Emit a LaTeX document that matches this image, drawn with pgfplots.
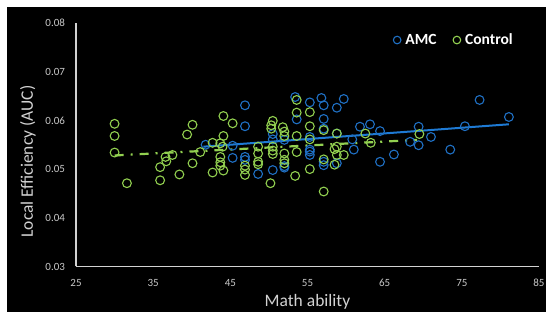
\documentclass[border=0pt]{standalone}
\usepackage{fontspec}
\setmainfont{Carlito}
\usepackage{pgfplots}
\pgfplotsset{compat=1.18}
\definecolor{amc}{RGB}{31,112,196}
\definecolor{amcline}{RGB}{30,122,212}
\definecolor{ctl}{RGB}{146,208,80}
\definecolor{axgray}{RGB}{210,210,210}
\definecolor{tickgray}{RGB}{200,200,200}
\begin{document}
\begin{tikzpicture}[x=1pt,y=1pt]
\useasboundingbox (0,0) rectangle (546,312);
\fill[white] (0,0) rectangle (546,312);
\fill[black] (7,0) rectangle (546,305);
\begin{axis}[
  at={(76pt,45.5pt)}, anchor=south west,
  scale only axis, width=463pt, height=243.5pt,
  xmin=25, xmax=85, ymin=0.03, ymax=0.08,
  xtick={25,35,45,55,65,75,85},
  ytick={0.03,0.04,0.05,0.06,0.07,0.08},
  scaled y ticks=false,
  axis x line*=bottom, axis y line*=left,
  axis line style={-, draw=axgray, line width=1.4pt},
  major tick length=0pt,
  tick style={draw=none},
  /pgf/number format/assume math mode=true,
  yticklabel style={/pgf/number format/.cd, fixed, fixed zerofill, precision=2, /tikz/.cd, xshift=-7.5pt},
  xticklabel style={yshift=-9pt},
  ticklabel style={font=\fontsize{11}{12}\selectfont, text=tickgray},
  xlabel={Math ability}, ylabel={Local Efficiency (AUC)},
  every axis x label/.style={at={(axis description cs:0.5,-0.146)}, anchor=center},
  every axis y label/.style={at={(axis description cs:-0.104,0.431)}, rotate=90, anchor=center},
  label style={font=\fontsize{17.5}{20}\selectfont, text=axgray},
  clip=false,
  legend columns=2,
  legend style={at={(axis description cs:0.685,0.93)}, anchor=west, draw=none, fill=none,
    text=white, font=\bfseries\fontsize{15.5}{16}\selectfont, inner sep=0pt,
    nodes={inner sep=1.5pt},
    /tikz/every odd column/.append style={column sep=3pt},
    /tikz/every even column/.append style={column sep=15pt}},
  legend image code/.code={\draw[#1, mark size=3.8pt] plot coordinates {(0.25em,0pt)};},
]
\addplot[only marks, mark=o, mark size=4.4pt, draw=amc, line width=1.1pt] coordinates {
(41.8,0.0550) (45.3,0.0548) (45.3,0.0523) (46.9,0.0631) (46.9,0.0588) (46.9,0.0525)
(46.9,0.0519) (48.6,0.0490) (50.5,0.0572) (50.5,0.0561) (50.5,0.0498) (52.0,0.0506)
(52.0,0.0503) (52.0,0.0560) (53.4,0.0648) (53.6,0.0602) (55.3,0.0637) (55.3,0.0566)
(55.3,0.0540) (55.3,0.0536) (55.3,0.0529) (56.8,0.0646) (57.1,0.0631) (57.1,0.0603)
(57.1,0.0583) (57.1,0.0515) (57.1,0.0508) (58.8,0.0626) (58.8,0.0573) (58.8,0.0512)
(59.7,0.0644) (60.8,0.0561) (61.0,0.0540) (61.8,0.0587) (63.1,0.0592) (64.4,0.0578)
(64.4,0.0515) (66.2,0.0530) (68.3,0.0556) (69.4,0.0587) (69.4,0.0549) (71.0,0.0566)
(73.5,0.0540) (75.4,0.0588) (77.3,0.0642) (81.1,0.0607)
};
\addlegendentry{AMC}
\addplot[only marks, mark=o, mark size=4.4pt, draw=ctl, line width=1.1pt] coordinates {
(30.0,0.0593) (30.0,0.0568) (30.0,0.0534) (31.6,0.0471) (35.9,0.0504) (35.9,0.0477)
(36.6,0.0525) (36.7,0.0516) (37.5,0.0529) (38.4,0.0489) (39.4,0.0571) (40.1,0.0591)
(40.1,0.0512) (41.1,0.0535) (42.7,0.0554) (42.7,0.0493) (44.1,0.0609) (45.3,0.0594)
(44.1,0.0568) (43.7,0.0553) (44.0,0.0546) (43.7,0.0525) (43.7,0.0514) (43.7,0.0507)
(44.1,0.0497) (46.9,0.0507) (46.9,0.0499) (46.9,0.0488) (48.6,0.0546) (48.6,0.0532)
(48.6,0.0515) (48.6,0.0510) (50.2,0.0471) (50.5,0.0599) (50.3,0.0590) (50.3,0.0583)
(50.5,0.0546) (50.5,0.0538) (50.5,0.0531) (51.8,0.0586) (52.0,0.0577) (52.0,0.0568)
(52.0,0.0532) (52.0,0.0519) (52.0,0.0512) (53.6,0.0642) (53.6,0.0616) (53.6,0.0568)
(53.6,0.0535) (53.4,0.0486) (55.3,0.0617) (55.3,0.0588) (55.3,0.0561) (55.3,0.0500)
(57.1,0.0454) (57.1,0.0580) (57.1,0.0520) (58.5,0.0541) (58.8,0.0573) (58.8,0.0546)
(58.8,0.0529) (58.5,0.0509) (59.7,0.0529) (62.5,0.0573) (63.2,0.0554) (69.5,0.0572)
};
\addlegendentry{Control}
\addplot[forget plot, no marks, draw=amcline, line width=2pt] coordinates {(41.5,0.0546) (81.1,0.0592)};
\addplot[forget plot, no marks, draw=ctl, line width=2.2pt, dash pattern=on 9pt off 7pt on 2pt off 7pt] coordinates {(30.0,0.0528) (69.2,0.0560)};
\end{axis}
\end{tikzpicture}
\end{document}
